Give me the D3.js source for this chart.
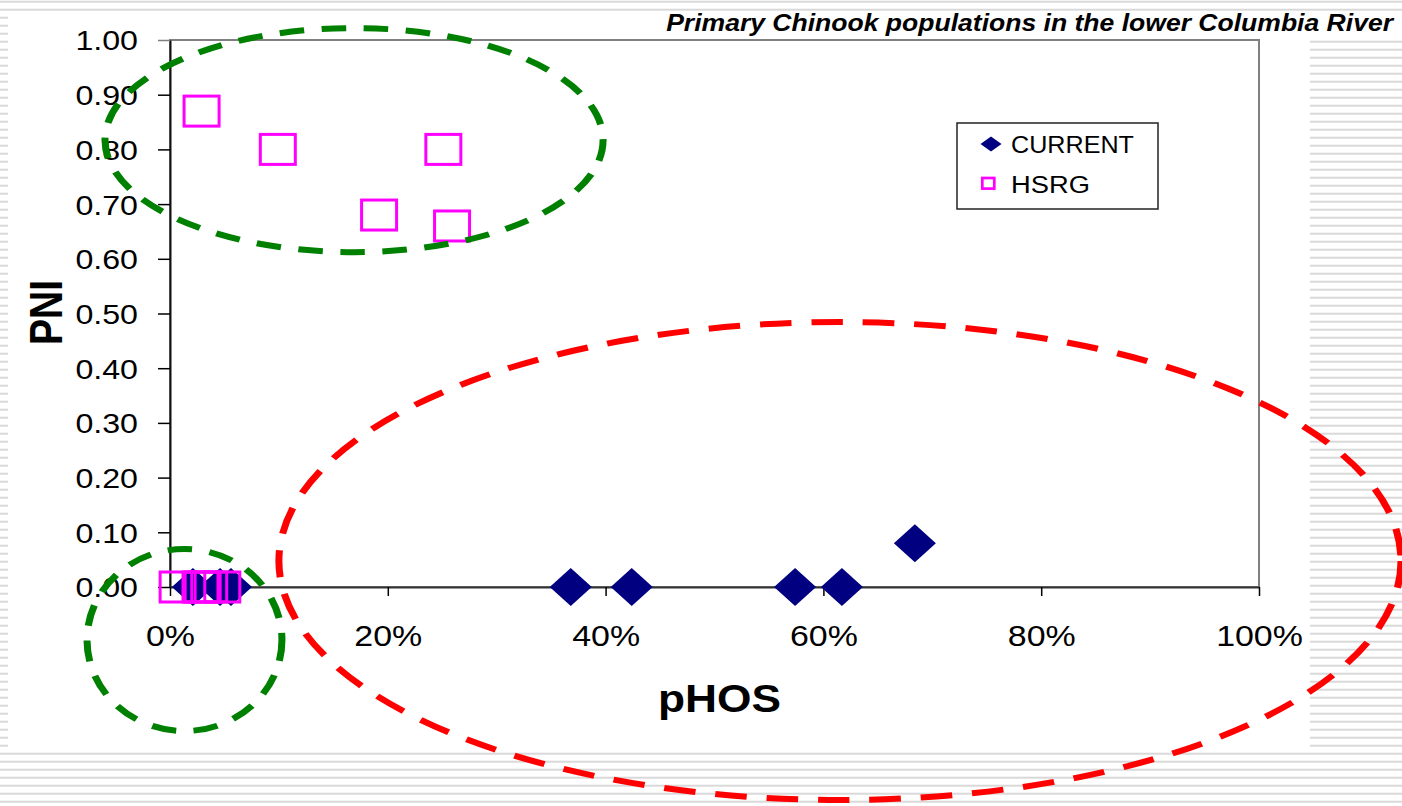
<!DOCTYPE html>
<html>
<head>
<meta charset="utf-8">
<script src="https://cdn.jsdelivr.net/npm/d3@7"></script>
<style>
  html, body { margin: 0; padding: 0; background: #fff; }
  svg { display: block; font-family: "Liberation Sans", Arial, sans-serif; }
</style>
</head>
<body>
<svg id="chart" width="1402" height="806"></svg>
<script>
// Chart values
const titleText = "Primary Chinook populations in the lower Columbia River";
const xTickValues = [0, 0.2, 0.4, 0.6, 0.8, 1.0];
const yTickValues = [0, 0.1, 0.2, 0.3, 0.4, 0.5, 0.6, 0.7, 0.8, 0.9, 1.0];

// CURRENT series (pHOS, PNI)
const currentX = [0.021, 0.046, 0.056, 0.368, 0.424, 0.574, 0.617, 0.684];
const currentY = [0, 0, 0, 0, 0, 0, 0, 0.08];

// HSRG series (pHOS, PNI)
const hsrgX = [0.029, 0.099, 0.251, 0.192, 0.259, 0.007, 0.028, 0.030, 0.036, 0.048];
const hsrgY = [0.87, 0.80, 0.80, 0.68, 0.66, 0, 0, 0, 0, 0];

// Dashed ellipse annotations in data units: centre (pHOS, PNI), radii
const ringCx = [0.169, 0.0133, 0.6152];
const ringCy = [0.817, -0.0969, 0.0475];
const ringRx = [0.2287, 0.0895, 0.5152];
const ringRy = [0.2048, 0.1664, 0.4369];
const ringColor = ["#008000", "#008000", "#ff0000"];
const ringDash = ["21,15", "21,15", "27,17"];

const svg = d3.select("#chart");
const W = 1402, H = 806;
const SX = 1.17; // horizontal stretch of the slide artwork

// Striped slide background
const bg = svg.append("g").attr("fill", "#d9d9d9");
for (let k = 0; ; k++) {
  const y = 1.7 + 8 * k;
  if (y > H) break;
  if (k <= 1 || y >= 752) {
    bg.append("rect").attr("x", 0).attr("y", y - 1).attr("width", W).attr("height", 2);
  } else {
    bg.append("rect").attr("x", 0).attr("y", y - 1).attr("width", 8).attr("height", 2);
    if (k >= 5) bg.append("rect").attr("x", 1310).attr("y", y - 1).attr("width", W - 1310).attr("height", 2);
  }
}

// Scales
const x = d3.scaleLinear().domain([0, 1]).range([170, 1259]);
const y = d3.scaleLinear().domain([0, 1]).range([587, 40]);

// Text with horizontal stretch; fits to width when given
function stretched(parent, o) {
  const t = parent.append("text")
    .attr("x", 0).attr("y", 0)
    .attr("text-anchor", o.anchor || "start")
    .attr("font-size", o.size)
    .attr("font-weight", o.weight || "normal")
    .attr("font-style", o.italic ? "italic" : "normal")
    .attr("fill", "#000")
    .text(o.text);
  const w = t.node().getComputedTextLength();
  const s = o.width ? o.width / w : SX;
  t.attr("transform", `translate(${o.x},${o.y}) scale(${s},1)` + (o.rotate ? ` rotate(${o.rotate})` : ""));
  return t;
}

// Plot frame (grey top and right borders)
svg.append("rect")
  .attr("x", x(0)).attr("y", y(1))
  .attr("width", x(1) - x(0)).attr("height", y(0) - y(1))
  .attr("fill", "#fff").attr("stroke", "#808080").attr("stroke-width", 2);

// Y axis
const yAxis = svg.append("g")
  .attr("transform", `translate(${x(0)},0)`)
  .call(d3.axisLeft(y).tickValues(yTickValues).tickFormat(d3.format(".2f")).tickSize(12).tickSizeOuter(0).tickPadding(20));
yAxis.select(".domain").attr("stroke", "#111").attr("stroke-width", 2);
yAxis.selectAll(".tick line").attr("stroke", d => d === 1 ? "#808080" : "#000").attr("stroke-width", 1.5);
yAxis.selectAll(".tick text")
  .attr("font-size", 27.5).attr("font-family", "'Liberation Sans', Arial, sans-serif")
  .attr("fill", "#000")
  .attr("x", -32 / SX).attr("dy", "0.36em")
  .attr("transform", `scale(${SX},1)`);

// X axis
const xAxis = svg.append("g")
  .attr("transform", `translate(0,${y(0)})`)
  .call(d3.axisBottom(x).tickValues(xTickValues).tickFormat(d3.format(".0%")).tickSize(9).tickSizeOuter(0));
xAxis.select(".domain").attr("stroke", "#333").attr("stroke-width", 2);
xAxis.selectAll(".tick line").attr("stroke", "#000").attr("stroke-width", 1.5);
xAxis.selectAll(".tick text")
  .attr("font-size", 29).attr("font-family", "'Liberation Sans', Arial, sans-serif")
  .attr("fill", "#000")
  .attr("y", 59).attr("dy", null)
  .attr("transform", `scale(${SX},1)`);

// CURRENT markers: filled navy diamonds
const diamond = (cx, cy, hw, hh) => `M${cx - hw},${cy}L${cx},${cy - hh}L${cx + hw},${cy}L${cx},${cy + hh}Z`;
svg.append("g").selectAll("path")
  .data(currentX.map((v, i) => [v, currentY[i]]))
  .join("path")
  .attr("d", d => diamond(x(d[0]), y(d[1]), 21, 19))
  .attr("fill", "#000080");

// HSRG markers: hollow magenta squares
svg.append("g").selectAll("rect")
  .data(hsrgX.map((v, i) => [v, hsrgY[i]]))
  .join("rect")
  .attr("x", d => x(d[0]) - 17.5).attr("y", d => y(d[1]) - 15)
  .attr("width", 35).attr("height", 30)
  .attr("fill", "none").attr("stroke", "#ff00ff").attr("stroke-width", 3);

// Legend
const lg = svg.append("g");
lg.append("rect").attr("x", 957).attr("y", 123).attr("width", 201).attr("height", 86)
  .attr("fill", "#fff").attr("stroke", "#222").attr("stroke-width", 1.5);
lg.append("path").attr("d", diamond(991, 144, 10.5, 7.5)).attr("fill", "#000080");
lg.append("rect").attr("x", 982.3).attr("y", 178).attr("width", 12).attr("height", 10.6)
  .attr("fill", "none").attr("stroke", "#ff00ff").attr("stroke-width", 2.7);
stretched(lg, { x: 1011, y: 152.5, text: "CURRENT", size: 24.5, width: 123 });
stretched(lg, { x: 1011, y: 193.3, text: "HSRG", size: 24.5, width: 79 });

// Titles
stretched(svg, { x: 1393, y: 31, text: titleText, size: 23, weight: "bold", italic: true, anchor: "end", width: 727 });
stretched(svg, { x: 719.5, y: 712, text: "pHOS", size: 38, weight: "bold", anchor: "middle", width: 123 });
stretched(svg, { x: 61.5, y: 312.5, text: "PNI", size: 39, weight: "bold", anchor: "middle", rotate: -90 });

// Dashed ellipses around the groups, drawn in the unstretched frame
// so dashes and strokes widen horizontally like the rest of the artwork
svg.append("g")
  .attr("transform", `scale(${SX},1)`)
  .selectAll("ellipse")
  .data(ringCx.map((v, i) => i))
  .join("ellipse")
  .attr("cx", i => x(ringCx[i]) / SX)
  .attr("cy", i => y(ringCy[i]))
  .attr("rx", i => (x(ringRx[i]) - x(0)) / SX)
  .attr("ry", i => y(0) - y(ringRy[i]))
  .attr("fill", "none")
  .attr("stroke", i => ringColor[i])
  .attr("stroke-width", 6)
  .attr("stroke-dasharray", i => ringDash[i]);
</script>
</body>
</html>
